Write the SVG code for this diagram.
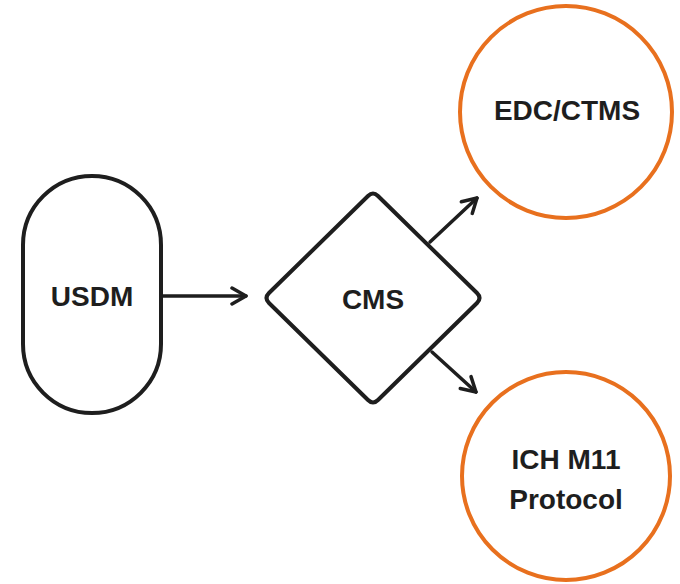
<svg xmlns="http://www.w3.org/2000/svg" width="680" height="584" viewBox="0 0 680 584">
<style>
.shape{fill:#fff;stroke:#1e1e1e;stroke-width:4;stroke-linejoin:round}
.orange{fill:#fff;stroke:#e8701e;stroke-width:4}
.lbl{font-family:"Liberation Sans",Arial,sans-serif;font-weight:bold;font-size:28px;fill:#1e1e1e;text-anchor:middle}
.conn{fill:none;stroke:#1e1e1e;stroke-width:3.5;stroke-linecap:round}
</style>
<defs>
<marker id="ah" viewBox="0 0 20 20" refX="18" refY="10" markerWidth="20" markerHeight="20" markerUnits="userSpaceOnUse" orient="auto">
<path d="M4 2 L18 10 L4 18" fill="none" stroke="#1e1e1e" stroke-width="3.5" stroke-linecap="round" stroke-linejoin="round"/>
</marker>
</defs>
<g id="connectors">
<path class="conn" d="M163 296 L246 296" marker-end="url(#ah)"/>
<path class="conn" d="M430 242 L477 198" marker-end="url(#ah)"/>
<path class="conn" d="M432 352 L476 392" marker-end="url(#ah)"/>
</g>
<g id="usdm">
<rect class="shape" x="23" y="176" width="138" height="237" rx="69" ry="69"/>
<text class="lbl" x="92" y="306">USDM</text>
</g>
<g id="cms">
<path class="shape" d="M368 196 Q373 191 378 196 L477 293 Q482 298 477 303 L378 400 Q373 405 368 400 L269 303 Q264 298 269 293 Z"/>
<text class="lbl" x="373" y="309">CMS</text>
</g>
<g id="edc">
<circle class="orange" cx="566" cy="112" r="106"/>
<text class="lbl" x="567" y="120">EDC/CTMS</text>
</g>
<g id="ich">
<circle class="orange" cx="566" cy="476" r="104"/>
<text class="lbl" x="566" y="469">ICH M11</text>
<text class="lbl" x="566" y="509">Protocol</text>
</g>
</svg>
